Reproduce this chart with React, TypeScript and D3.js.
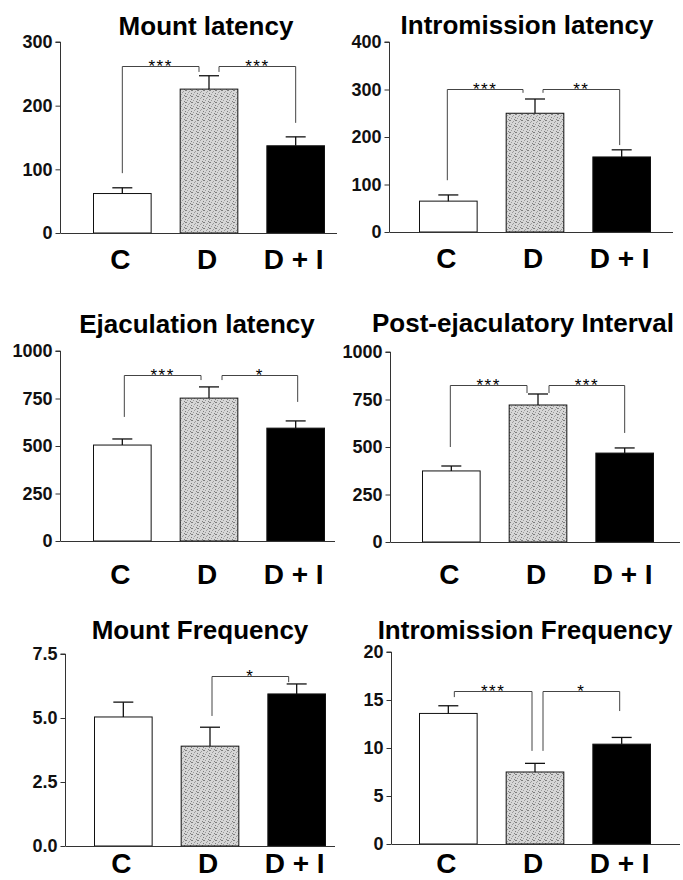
import React, { useEffect, useRef } from 'react';
import * as d3 from 'd3';

const groups = ['C', 'D', 'D + I'];

const titles = [
  'Mount latency',
  'Intromission latency',
  'Ejaculation latency',
  'Post-ejaculatory Interval',
  'Mount Frequency',
  'Intromission Frequency',
];

const yTicks = [
  [0, 100, 200, 300],
  [0, 100, 200, 300, 400],
  [0, 250, 500, 750, 1000],
  [0, 250, 500, 750, 1000],
  [0, 2.5, 5, 7.5],
  [0, 5, 10, 15, 20],
];

const means = [
  [62, 226, 137],
  [65, 250, 158],
  [505, 752, 594],
  [374, 721, 468],
  [5.04, 3.9, 5.94],
  [13.6, 7.5, 10.4],
];

const sems = [
  [9, 21, 14],
  [13, 30, 15],
  [32, 59, 38],
  [26, 58, 27],
  [0.58, 0.74, 0.39],
  [0.8, 0.9, 0.7],
];

// significance brackets: level of the bar, where each leg ends, stars
const brackets = [
  [
    { a: 'C', b: 'D', level: 262, aEnd: 94, bEnd: 253, stars: '***' },
    { a: 'D', b: 'D + I', level: 262, aEnd: 253, bEnd: 173, stars: '***' },
  ],
  [
    { a: 'C', b: 'D', level: 301, aEnd: 109, bEnd: 293, stars: '***' },
    { a: 'D', b: 'D + I', level: 301, aEnd: 293, bEnd: 183, stars: '**' },
  ],
  [
    { a: 'C', b: 'D', level: 874, aEnd: 653, bEnd: 847, stars: '***' },
    { a: 'D', b: 'D + I', level: 874, aEnd: 847, bEnd: 732, stars: '*' },
  ],
  [
    { a: 'C', b: 'D', level: 826, aEnd: 500, bEnd: 784, stars: '***' },
    { a: 'D', b: 'D + I', level: 826, aEnd: 784, bEnd: 574, stars: '***' },
  ],
  [
    { a: 'D', b: 'D + I', level: 6.64, aEnd: 5.08, bEnd: 6.4, stars: '*' },
  ],
  [
    { a: 'C', b: 'D', level: 15.94, aEnd: 15.3, bEnd: 9.7, stars: '***' },
    { a: 'D', b: 'D + I', level: 15.94, aEnd: 9.7, bEnd: 13.85, stars: '*' },
  ],
];

// where each panel sits on the page
const layout = [
  { x0: 60.5, top: 42, bottom: 233, xEnd: 337, barStart: 33, titleX: 206, titleY: 35, labelY: 269, legs: [[0, -10], [10, 0]] },
  { x0: 389.5, top: 42, bottom: 232, xEnd: 673, barStart: 30, titleX: 527, titleY: 34, labelY: 268, legs: [[-1, -12], [8, -2]] },
  { x0: 60.5, top: 351, bottom: 541, xEnd: 335, barStart: 33, titleX: 197, titleY: 333, labelY: 584, legs: [[2, -8], [13, 2]] },
  { x0: 390.5, top: 352, bottom: 542, xEnd: 680, barStart: 32, titleX: 523, titleY: 332, labelY: 584, legs: [[-1, -11], [11, 0]] },
  { x0: 65.5, top: 654, bottom: 846, xEnd: 335, barStart: 29, titleX: 200, titleY: 639, labelY: 873, legs: [[2, -8]] },
  { x0: 391.5, top: 652, bottom: 844, xEnd: 680, barStart: 28, titleX: 525, titleY: 639, labelY: 873, legs: [[6, -3], [8, -2]] },
];

const font = '"Liberation Sans", Arial, Helvetica, sans-serif';
const fills = ['#ffffff', 'url(#stipple)', '#000000'];

// speckle positions inside one 6x6 tile of the stipple
const speckDots = [[0, 0], [3, 1], [5, 3], [1, 4], [4, 5], [2, 2], [5, 0]];

const App = () => {
  const svgRef = useRef<SVGSVGElement>(null);

  useEffect(() => {
    if (!svgRef.current) return;
    const svg = d3.select(svgRef.current);
    svg.selectAll('*').remove();

    // grey stippled fill for the D bars
    const pat = svg.append('defs').append('pattern')
      .attr('id', 'stipple')
      .attr('width', 6)
      .attr('height', 6)
      .attr('patternUnits', 'userSpaceOnUse');
    pat.append('rect').attr('width', 6).attr('height', 6).attr('fill', '#d6d6d6');
    speckDots.forEach(([px, py], k) => {
      pat.append('rect')
        .attr('x', px).attr('y', py)
        .attr('width', 1).attr('height', 1)
        .attr('fill', k % 2 ? '#9c9c9c' : '#7e7e7e');
    });

    layout.forEach((L, i) => {
      const ticks = yTicks[i];
      const y = d3.scaleLinear()
        .domain([0, ticks[ticks.length - 1]])
        .range([L.bottom, L.top]);
      const x = d3.scaleBand()
        .domain(groups)
        .range([L.x0 + L.barStart, L.x0 + L.barStart + 231])
        .paddingInner(0.335)
        .paddingOuter(0);
      const cx = (g: string) => (x(g) as number) + x.bandwidth() / 2;

      const g = svg.append('g');

      // title
      g.append('text')
        .attr('x', L.titleX)
        .attr('y', L.titleY)
        .attr('text-anchor', 'middle')
        .style('font-family', font)
        .style('font-weight', 'bold')
        .style('font-size', '26px')
        .text(titles[i]);

      // bars
      g.selectAll('rect.bar')
        .data(means[i])
        .enter()
        .append('rect')
        .attr('x', (d, j) => x(groups[j]) as number)
        .attr('y', (d) => y(d))
        .attr('width', x.bandwidth())
        .attr('height', (d) => L.bottom - y(d))
        .attr('fill', (d, j) => fills[j])
        .attr('stroke', '#111')
        .attr('stroke-width', 1);

      // error bars (upper only)
      means[i].forEach((m, j) => {
        const c = cx(groups[j]);
        const t = y(m + sems[i][j]);
        g.append('line').attr('x1', c).attr('x2', c).attr('y1', y(m)).attr('y2', t)
          .attr('stroke', '#111').attr('stroke-width', 1.3);
        g.append('line').attr('x1', c - 10).attr('x2', c + 10).attr('y1', t).attr('y2', t)
          .attr('stroke', '#111').attr('stroke-width', 1.3);
      });

      // axes
      const yAxis = d3.axisLeft(y)
        .tickValues(ticks)
        .tickSize(5)
        .tickPadding(3)
        .tickFormat((d) => (i === 4 ? d3.format('.1f')(d as number) : String(d)));
      const ya = g.append('g').attr('transform', `translate(${L.x0},0)`).call(yAxis);
      ya.select('.domain').attr('stroke', '#333').attr('d', `M-5,${L.top}H0V${L.bottom}`);
      ya.selectAll('.tick line').attr('stroke', '#333');
      ya.selectAll('text')
        .style('font-family', font)
        .style('font-weight', 'bold')
        .style('font-size', '18px')
        .attr('fill', '#111');

      g.append('line')
        .attr('x1', L.x0).attr('x2', L.xEnd)
        .attr('y1', L.bottom + 0.5).attr('y2', L.bottom + 0.5)
        .attr('stroke', '#333').attr('stroke-width', 1);

      // group labels
      groups.forEach((name) => {
        g.append('text')
          .attr('x', cx(name) - 2)
          .attr('y', L.labelY)
          .attr('text-anchor', 'middle')
          .style('font-family', font)
          .style('font-weight', 'bold')
          .style('font-size', '28px')
          .text(name);
      });

      // significance brackets
      brackets[i].forEach((b, k) => {
        const xa = cx(b.a) + L.legs[k][0];
        const xb = cx(b.b) + L.legs[k][1];
        const yl = Math.round(y(b.level)) + 0.5;
        const path = d3.path();
        path.moveTo(xa, y(b.aEnd));
        path.lineTo(xa, yl);
        path.lineTo(xb, yl);
        path.lineTo(xb, y(b.bEnd));
        g.append('path')
          .attr('d', path.toString())
          .attr('fill', 'none')
          .attr('stroke', '#444')
          .attr('stroke-width', 1);
        g.append('text')
          .attr('x', (xa + xb) / 2)
          .attr('y', yl + 5)
          .attr('text-anchor', 'middle')
          .style('font-family', font)
          .style('font-size', '17px')
          .style('letter-spacing', '1.5px')
          .text(b.stars);
      });
    });
  }, []);

  return (
    <div style={{ position: 'absolute', left: 0, top: 0, background: '#fff' }}>
      <svg ref={svgRef} width={683} height={880} style={{ display: 'block' }}></svg>
    </div>
  );
};

export default App;
